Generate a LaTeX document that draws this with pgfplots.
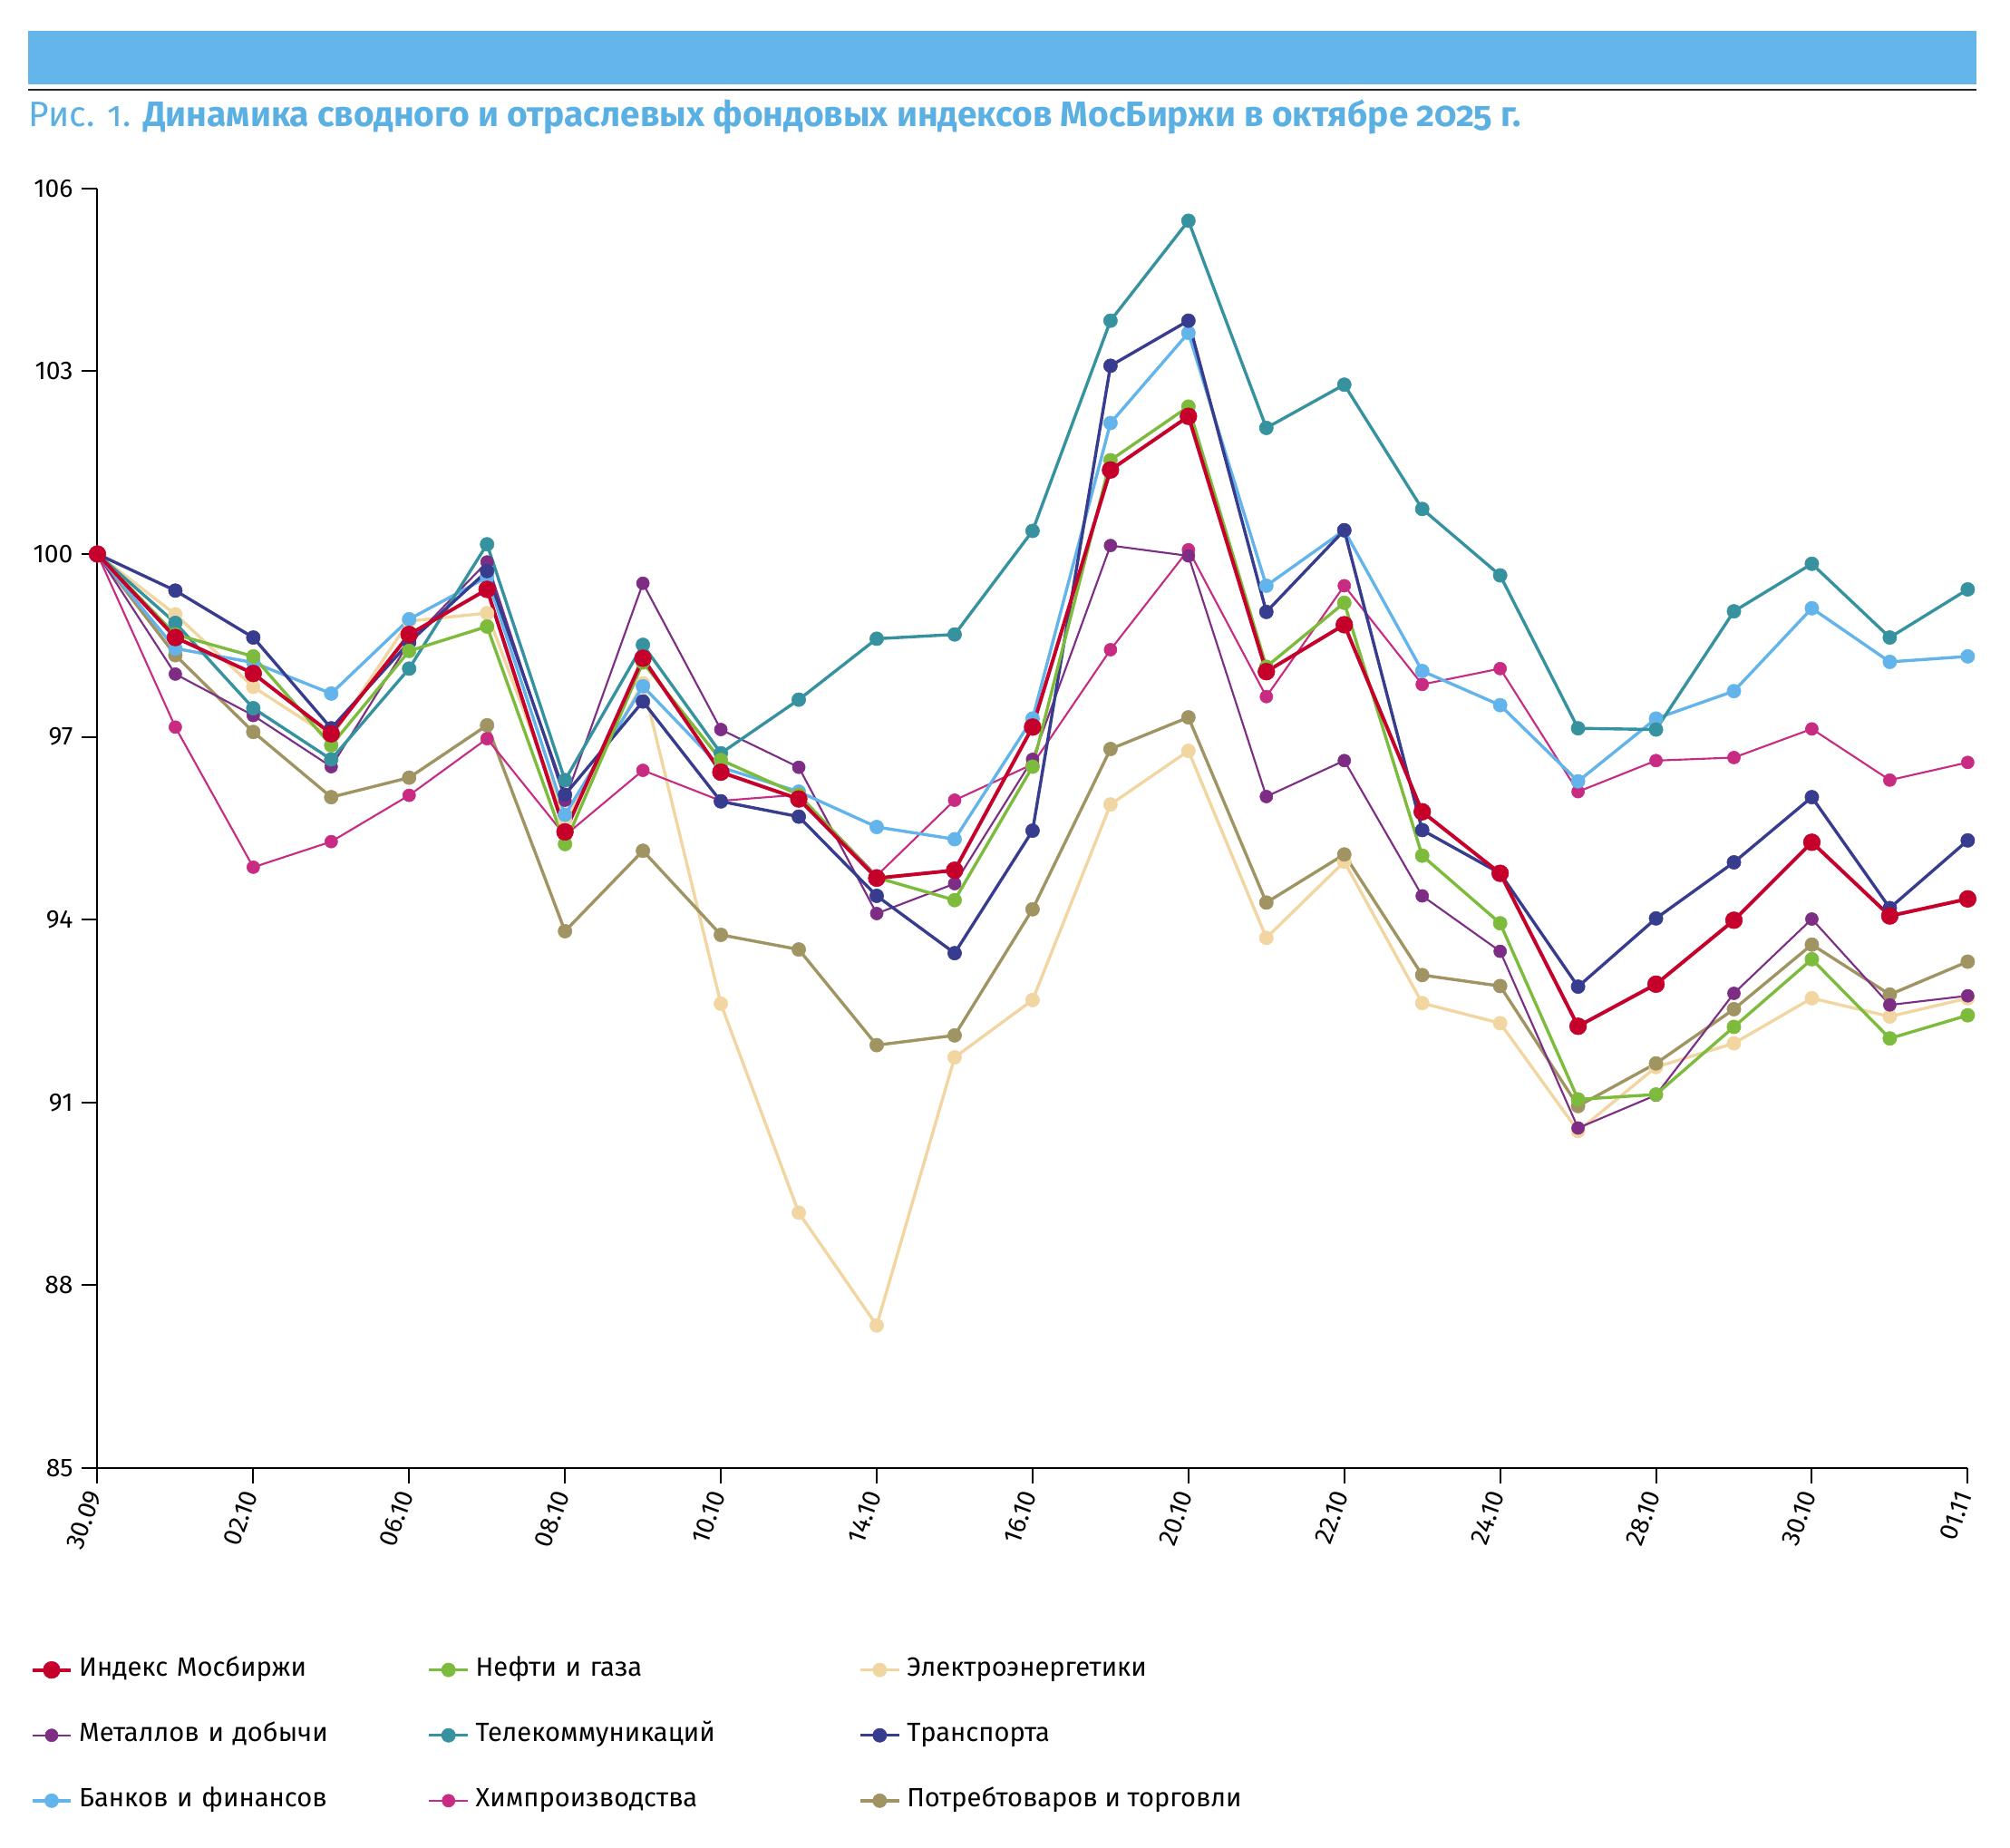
\documentclass[border=0pt]{standalone}
\usepackage{fontspec}
\setmainfont{Fira Sans}
\newfontfamily\titlefont{Fira Sans}[Numbers=OldStyle]
\usepackage{pgfplots}
\pgfplotsset{compat=1.18}
\usepackage{pgfplotstable}

\definecolor{cred}{HTML}{C4002B}
\definecolor{cgreen}{HTML}{7DBB3C}
\definecolor{cbeige}{HTML}{F2D6A2}
\definecolor{cpurple}{HTML}{7E2D85}
\definecolor{cteal}{HTML}{3792A0}
\definecolor{cnavy}{HTML}{383C8E}
\definecolor{cblue}{HTML}{62B4EA}
\definecolor{cpink}{HTML}{C72C82}
\definecolor{ckhaki}{HTML}{A09462}
\definecolor{banner}{HTML}{64B5EA}
\definecolor{titleblue}{HTML}{5AAFE3}

% index values, 30.09.2025 = 100
\pgfplotstableread{
i  red    green  beige  purple teal   navy   blue   pink   khaki
0  100    100    100    100    100    100    100    100    100
1  98.63  98.68  99.01  98.03  98.87  99.40  98.45  97.16  98.34
2  98.04  98.32  97.82  97.35  97.47  98.63  98.22  94.86  97.08
3  97.05  96.86  96.99  96.51  96.63  97.14  97.71  95.28  96.01
4  98.68  98.41  98.90  98.55  98.12  98.55  98.93  96.04  96.33
5  99.42  98.81  99.03  99.87  100.16 99.72  99.62  96.97  97.19
6  95.44  95.24  95.63  95.96  96.29  96.05  95.72  95.38  93.81
7  98.29  98.22  97.88  99.52  98.51  97.58  97.83  96.45  95.13
8  96.42  96.62  92.62  97.12  96.73  95.94  96.50  95.95  93.75
9  95.98  96.05  89.19  96.50  97.61  95.69  96.10  96.05  93.51
10 94.68  94.69  87.34  94.10  98.61  94.39  95.52  94.72  91.94
11 94.81  94.32  91.74  94.59  98.68  93.45  95.32  95.96  92.10
12 97.16  96.51  92.68  96.63  100.38 95.46  97.30  96.55  94.17
13 101.38 101.54 95.89  100.14 103.83 103.09 102.15 98.43  96.80
14 102.26 102.42 96.77  99.97  105.47 103.83 103.63 100.07 97.32
15 98.07  98.15  93.70  96.02  102.07 99.05  99.48  97.66  94.28
16 98.84  99.20  94.95  96.61  102.78 100.39 100.39 99.48  95.07
17 95.77  95.05  92.63  94.39  100.74 95.47  98.08  97.86  93.09
18 94.76  93.94  92.30  93.48  99.65  94.76  97.52  98.12  92.91
19 92.25  91.05  90.53  90.58  97.14  92.90  96.27  96.10  90.94
20 92.94  91.13  91.58  91.12  97.12  94.02  97.30  96.61  91.64
21 93.99  92.24  91.97  92.79  99.06  94.94  97.75  96.66  92.53
22 95.27  93.35  92.71  94.01  99.84  96.01  99.11  97.13  93.59
23 94.06  92.05  92.41  92.60  98.63  94.19  98.23  96.29  92.77
24 94.34  92.43  92.71  92.75  99.42  95.30  98.32  96.58  93.31
}\data

\pgfplotsset{
  ser/.style n args={3}{color=#1, line width=#2, mark=*, mark size=#3,
    mark options={solid, fill=#1, draw=#1, line width=0.2pt}},
}

\begin{document}
\begin{tikzpicture}
\useasboundingbox (-38pt,-148pt) rectangle (746pt,572.5pt);
\fill[banner] (-27pt,539.5pt) rectangle (733pt,560.5pt);
\draw[line width=0.6pt, black!85] (-27pt,537.5pt) -- (733pt,537.5pt);
\node[anchor=base west, inner sep=0pt, text=titleblue,
      font=\titlefont\fontsize{13.75}{16}\selectfont] at (-27pt,523pt)
  {Рис. 1. \textbf{Динамика сводного и отраслевых фондовых индексов МосБиржи в октябре 2025 г.}};

\begin{axis}[
  at={(0pt,0pt)}, anchor=south west,
  width=729.5pt, height=499pt, scale only axis,
  xmin=0, xmax=24, ymin=85, ymax=106,
  axis lines*=left,
  axis line style={line width=0.7pt, black},
  xtick={0,2,...,24},
  xticklabels={30.09,02.10,06.10,08.10,10.10,14.10,16.10,20.10,22.10,24.10,28.10,30.10,01.11},
  ytick={85,88,...,106},
  tick align=outside,
  major tick length=6pt,
  tick style={black, line width=0.7pt},
  tick label style={font=\fontsize{10}{12}\selectfont},
  xticklabel style={rotate=70, anchor=east},
  /pgf/number format/assume math mode=true,
  clip=false,
  legend columns=3,
  legend style={at={(axis description cs:-0.036,-0.148)}, anchor=north west,
    draw=none, fill=none, inner sep=0pt, row sep=16.1pt,
    font=\fontsize{10.3}{12}\selectfont,
    nodes={inner sep=0pt, text height=7.2pt, text depth=2.2pt}},
  legend cell align=left,
  legend image code/.code={
    \draw[mark repeat=2, mark phase=2] plot coordinates {(0pt,0pt) (7.5pt,0pt) (15pt,0pt)};
    \path (17.5pt,0pt);},
]
\addplot[ser={cbeige}{1.2pt}{2.7pt}, forget plot] table[x=i, y=beige]{\data};
\addplot[ser={ckhaki}{1.2pt}{2.7pt}, forget plot] table[x=i, y=khaki]{\data};
\addplot[ser={cpink}{0.75pt}{2.5pt}, forget plot] table[x=i, y=pink]{\data};
\addplot[ser={cpurple}{0.75pt}{2.5pt}, forget plot] table[x=i, y=purple]{\data};
\addplot[ser={cblue}{1.2pt}{2.7pt}, forget plot] table[x=i, y=blue]{\data};
\addplot[ser={cteal}{1.2pt}{2.7pt}, forget plot] table[x=i, y=teal]{\data};
\addplot[ser={cnavy}{1.2pt}{2.7pt}, forget plot] table[x=i, y=navy]{\data};
\addplot[ser={cgreen}{1.2pt}{2.7pt}, forget plot] table[x=i, y=green]{\data};
\addplot[ser={cred}{1.4pt}{3.3pt}, forget plot] table[x=i, y=red]{\data};

\addlegendimage{ser={cred}{1.4pt}{3.3pt}}
\addlegendentry[text width=136pt, align=left]{Индекс Мосбиржи}
\addlegendimage{ser={cgreen}{1.2pt}{2.7pt}}
\addlegendentry[text width=149.5pt, align=left]{Нефти и газа}
\addlegendimage{ser={cbeige}{1.2pt}{2.7pt}}
\addlegendentry{Электроэнергетики}
\addlegendimage{ser={cpurple}{0.75pt}{2.5pt}}
\addlegendentry[text width=136pt, align=left]{Металлов и добычи}
\addlegendimage{ser={cteal}{1.2pt}{2.7pt}}
\addlegendentry[text width=149.5pt, align=left]{Телекоммуникаций}
\addlegendimage{ser={cnavy}{1.2pt}{2.7pt}}
\addlegendentry{Транспорта}
\addlegendimage{ser={cblue}{1.2pt}{2.7pt}}
\addlegendentry[text width=136pt, align=left]{Банков и финансов}
\addlegendimage{ser={cpink}{0.75pt}{2.5pt}}
\addlegendentry[text width=149.5pt, align=left]{Химпроизводства}
\addlegendimage{ser={ckhaki}{1.2pt}{2.7pt}}
\addlegendentry{Потребтоваров и торговли}
\end{axis}
\end{tikzpicture}
\end{document}
